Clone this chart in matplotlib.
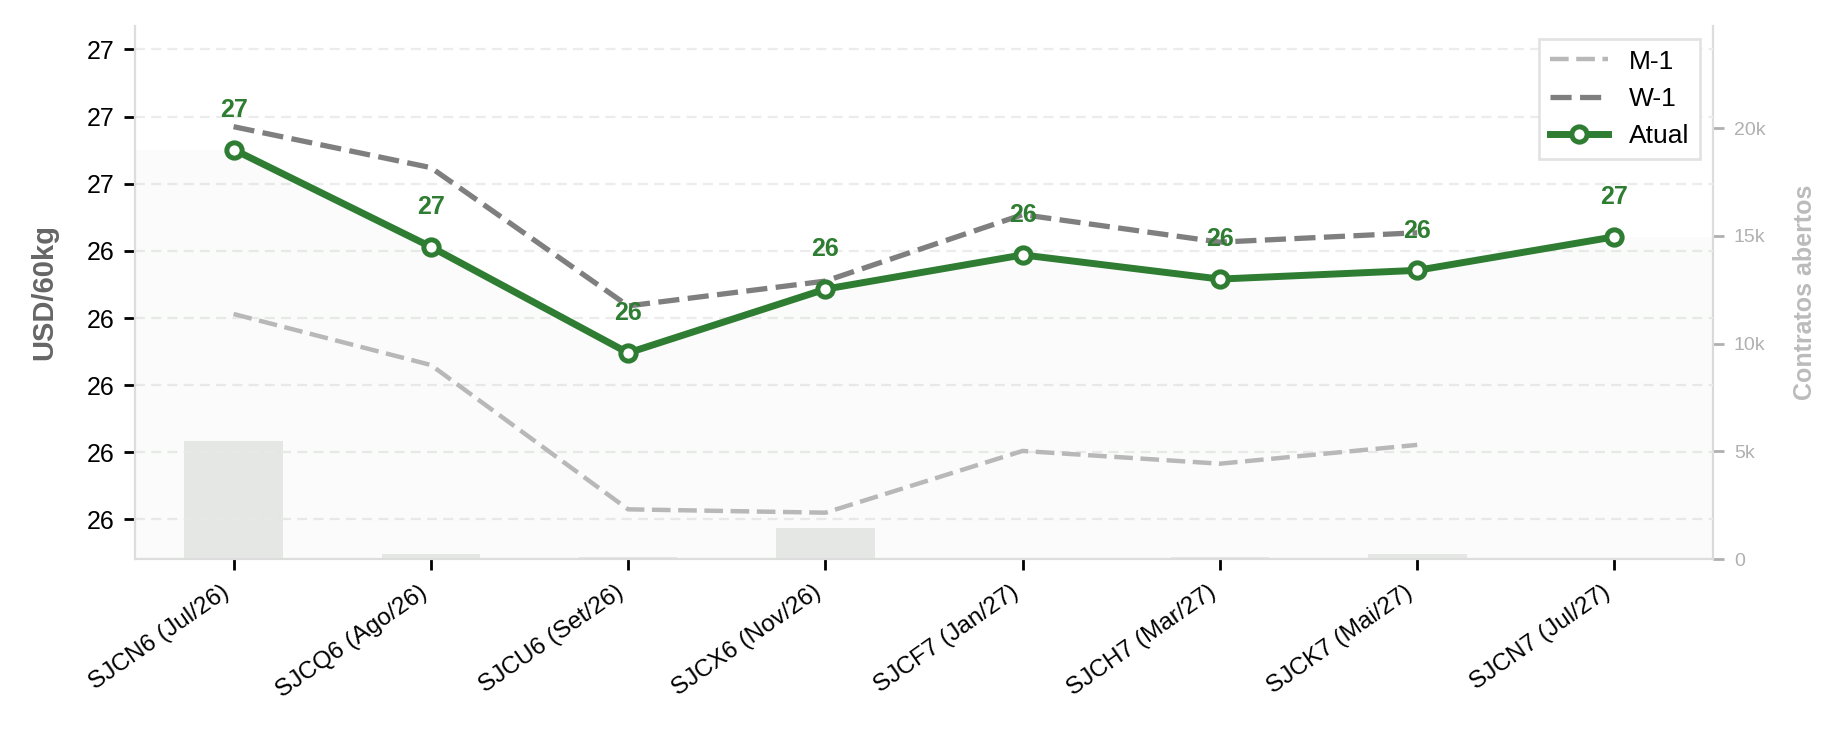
import numpy as np
import matplotlib
matplotlib.use('Agg')
import matplotlib.pyplot as plt
from matplotlib.ticker import FuncFormatter, FormatStrFormatter

plt.rcParams['font.family'] = ['Liberation Sans', 'DejaVu Sans']

contracts = ['SJCN6 (Jul/26)', 'SJCQ6 (Ago/26)', 'SJCU6 (Set/26)', 'SJCX6 (Nov/26)',
             'SJCF7 (Jan/27)', 'SJCH7 (Mar/27)', 'SJCK7 (Mai/27)', 'SJCN7 (Jul/27)']
atual = [26.651, 26.506, 26.348, 26.443, 26.494, 26.458, 26.471, 26.521]
w1 = [26.685, 26.624, 26.418, 26.455, 26.554, 26.513, 26.527, np.nan]
m1 = [26.406, 26.330, 26.115, 26.110, 26.202, 26.183, 26.211, np.nan]
open_int = [5500, 230, 80, 1420, 0, 100, 230, 0]
yticks = [26.1, 26.2, 26.3, 26.4, 26.5, 26.6, 26.7, 26.8]

green = '#2e7d32'
x = np.arange(len(contracts))

fig, ax = plt.subplots(figsize=(9.23, 3.67), dpi=200)
fig.subplots_adjust(left=0.0731, right=0.928, bottom=0.2384, top=0.9646)
ax2 = ax.twinx()
ax.set_zorder(ax2.get_zorder() + 1)
ax.patch.set_visible(False)

# open interest bars, behind everything
ax2.bar(x, open_int, width=0.5, color='#eaeaea', zorder=1)
ax2.set_ylim(0, max(open_int) * 4.5)
ax2.set_yticks([0, 5000, 10000, 15000, 20000])
ax2.yaxis.set_major_formatter(FuncFormatter(lambda v, p: '0' if v == 0 else '%dk' % (v / 1000)))
ax2.tick_params(axis='y', colors='#b0b0b0', labelsize=7, length=4, width=1)
ax2.set_ylabel('Contratos abertos', color='#bbbbbb', fontsize=9, fontweight='bold', labelpad=10)
for s in ['top', 'left', 'bottom']:
    ax2.spines[s].set_visible(False)
ax2.spines['right'].set_color('#dddddd')

ax.set_xlim(-0.5, len(contracts) - 0.5)
ax.set_ylim(26.041, 26.835)

# pale fill under the current curve, stretched to both edges
xe = np.concatenate([[-0.5], x, [len(contracts) - 0.5]])
ye = np.concatenate([[atual[0]], atual, [atual[-1]]])
ax.fill_between(xe, ye, ax.get_ylim()[0], color=green, alpha=0.025, lw=0, zorder=1)

ax.plot(x, m1, color='#b8b8b8', lw=1.6, dashes=(4.2, 1.7), label='M-1', zorder=2)
ax.plot(x, w1, color='#7f7f7f', lw=1.9, dashes=(4.0, 1.6), label='W-1', zorder=3)
ax.plot(x, atual, color=green, lw=2.5, marker='o', ms=5.5, mfc='white', mec=green,
        mew=1.8, label='Atual', zorder=4)

for xi, v in zip(x, atual):
    ax.annotate('%.0f' % v, (xi, v), xytext=(0, 10), textcoords='offset points',
                ha='center', va='bottom', fontsize=9, fontweight='bold', color=green, zorder=5)

ax.set_yticks(yticks)
ax.yaxis.set_major_formatter(FormatStrFormatter('%.0f'))
ax.set_xticks(x)
ax.set_xticklabels(contracts, rotation=35, ha='right', fontsize=8.8)
ax.tick_params(axis='y', labelsize=9, length=4, width=1)
ax.tick_params(axis='x', length=4, width=1, pad=4)
ax.grid(axis='y', color='#ececec', lw=0.8, dashes=(4.5, 2.8))
ax.set_axisbelow(True)
ax.set_ylabel('USD/60kg', color='#666666', fontsize=10.5, fontweight='bold', labelpad=10)

for s in ['top', 'right']:
    ax.spines[s].set_visible(False)
ax.spines['left'].set_color('#dddddd')
ax.spines['bottom'].set_color('#dddddd')

leg = ax.legend(loc='upper right', fontsize=9.5, fancybox=False, framealpha=1,
                edgecolor='#e3e3e3', handlelength=2.2)
leg.get_frame().set_linewidth(1)

fig.savefig('out.png', dpi=200)
